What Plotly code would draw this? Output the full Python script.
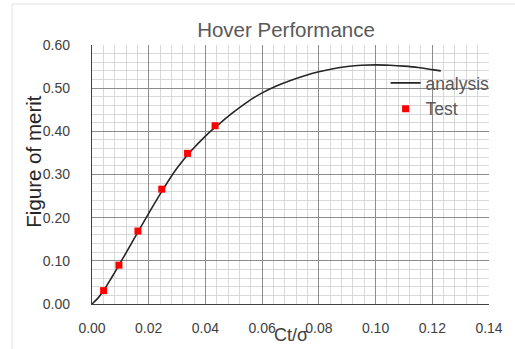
import plotly.graph_objects as go

# analysis curve (Ct/sigma vs figure of merit)
analysis_x = [0, 0.002, 0.004, 0.007, 0.0095, 0.0125, 0.015, 0.02, 0.025, 0.03, 0.035,
              0.04, 0.045, 0.05, 0.055, 0.06, 0.065, 0.07, 0.075, 0.08, 0.085, 0.09,
              0.095, 0.10, 0.105, 0.11, 0.115, 0.12, 0.123]
analysis_y = [0, 0.013, 0.030, 0.062, 0.090, 0.124, 0.153, 0.210, 0.265, 0.315, 0.355,
              0.389, 0.418, 0.445, 0.469, 0.489, 0.505, 0.518, 0.529, 0.538, 0.545, 0.550,
              0.553, 0.554, 0.553, 0.551, 0.548, 0.543, 0.540]

# test points
test_x = [0.0041, 0.0095, 0.0162, 0.0246, 0.0337, 0.0434]
test_y = [0.031, 0.090, 0.169, 0.266, 0.349, 0.413]

x_ticks = [0.00, 0.02, 0.04, 0.06, 0.08, 0.10, 0.12, 0.14]
y_ticks = [0.00, 0.10, 0.20, 0.30, 0.40, 0.50, 0.60]

W, H = 515, 349
L, R, T, B = 91.5, 496.5, 45, 304
pw, ph = R - L, B - T

def px(xp):
    return (xp - L) / pw

def py(yp):
    return (B - yp) / ph

fig = go.Figure()
fig.add_trace(go.Scatter(x=analysis_x, y=analysis_y, mode="lines", name="analysis",
                         line=dict(color="#262626", width=1.6, shape="spline", smoothing=1)))
fig.add_trace(go.Scatter(x=test_x, y=test_y, mode="markers", name="Test",
                         marker=dict(symbol="square", color="#ff0000", size=7)))

font = "Liberation Sans, Arial, sans-serif"
fig.update_layout(
    width=W, height=H,
    margin=dict(l=L, r=W - R, t=T, b=H - B),
    paper_bgcolor="white", plot_bgcolor="white",
    font=dict(family=font, color="#404040"),
    title=dict(text="Hover Performance", x=286 / W, xref="container", xanchor="center",
               y=1 - 30 / H, yref="container", yanchor="middle",
               font=dict(size=20.5, color="#595959", family=font)),
    showlegend=True,
    legend=dict(x=px(391), y=py(65), xanchor="left", yanchor="top",
                bgcolor="rgba(0,0,0,0)", font=dict(size=17.5, color="#595959"),
                itemwidth=30, tracegroupgap=0),
    xaxis=dict(range=[0, 0.14], tickvals=x_ticks, ticktext=[f"{v:.2f}" for v in x_ticks],
               showgrid=True, gridcolor="#8c8c8c", gridwidth=1,
               minor=dict(dtick=0.004, showgrid=True, gridcolor="#d9d9d9", gridwidth=1),
               showline=True, linecolor="#404040", linewidth=1.3, zeroline=False,
               ticks="", ticklabelstandoff=11, tickfont=dict(size=14, color="#404040")),
    yaxis=dict(range=[0, 0.6], tickvals=y_ticks, ticktext=[f"{v:.2f}" for v in y_ticks],
               showgrid=True, gridcolor="#8c8c8c", gridwidth=1,
               minor=dict(dtick=0.02, showgrid=True, gridcolor="#d9d9d9", gridwidth=1),
               showline=True, linecolor="#404040", linewidth=1.3, zeroline=False,
               ticks="", ticklabelstandoff=18, tickfont=dict(size=14, color="#404040")),
    annotations=[
        dict(text="Figure of merit", textangle=-90, xref="paper", yref="paper",
             x=px(31), y=py(162), xanchor="center", yanchor="middle", showarrow=False,
             font=dict(size=20.5, color="#262626", family=font)),
        dict(text="Ct/σ", xref="paper", yref="paper", x=px(294), y=py(335),
             xanchor="center", yanchor="middle", showarrow=False,
             font=dict(size=18, color="#404040", family=font)),
    ],
    shapes=[dict(type="rect", xref="paper", yref="paper", x0=px(10), y0=py(370),
                 x1=px(530), y1=py(4), line=dict(color="#e0e0e0", width=1), layer="below")],
)

fig.write_html("out.html")
